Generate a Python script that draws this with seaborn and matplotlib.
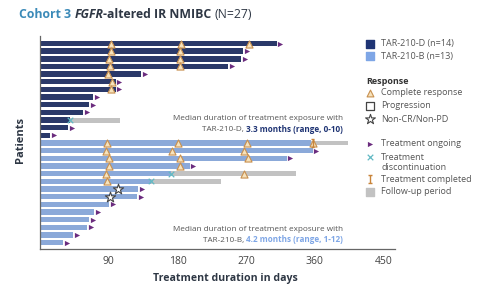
import numpy as np
import pandas as pd
import matplotlib
matplotlib.use("Agg")
import matplotlib.pyplot as plt
from matplotlib.path import Path
import seaborn as sns

# ---- data (days) ----
d_end = [310, 266, 263, 246, 132, 99, 99, 70, 64, 56, 39, 37, 13]
b_end = [355, 357, 323, 196, 172, 146, 128, 127, 91, 71, 64, 62, 43, 30]

# complete response time points per patient (row order top to bottom)
d_cr = [[93, 185, 274], [93, 184], [90, 183], [92, 183], [89], [94], [93],
        [], [], [], [], [], []]
b_cr = [[88, 181, 271, 357], [86, 173, 267], [91, 184, 273], [91, 184],
        [86, 267], [88], [], [], [], [], [], [], [], []]

# non-CR/non-PD (row in B arm -> day)
b_star_rows = [6, 7]
b_star_days = [102, 92]

# follow-up period end (row -> day); the treatment ends at bar end
d_fu_rows, d_fu_end = [10], [105]
b_fu_rows, b_fu_end = [0, 4, 5], [403, 335, 237]

# treatment discontinuation rows
d_disc_rows = [10]
b_disc_rows = [4, 5]
# treatment completed rows
b_comp_rows = [0]

arms = ["TAR-210-D"] * len(d_end) + ["TAR-210-B"] * len(b_end)
ends = d_end + b_end
patients = [f"P{i+1}" for i in range(len(ends))]

df = pd.DataFrame({"patient": patients, "days": ends, "arm": arms})

# colours
navy = "#1f3474"
light = "#7ea6e6"
grey_fu = "#c2c2c2"
purple = "#6b2c7e"
teal = "#62b9c4"
cr_face = "#f6e2bc"
cr_edge = "#c8904f"
text_grey = "#555555"

sns.set_style("white")
plt.rcParams["font.family"] = ["Open Sans", "DejaVu Sans"]

fig = plt.figure(figsize=(5.0, 2.93), dpi=100)
W, H = 500, 293
ax_left, ax_right, ax_top, ax_bot = 40, 395, 36, 249
ax = fig.add_axes([ax_left / W, 1 - ax_bot / H, (ax_right - ax_left) / W, (ax_bot - ax_top) / H])

sns.barplot(data=df, x="days", y="patient", hue="arm", order=patients,
            palette={"TAR-210-D": navy, "TAR-210-B": light}, dodge=False,
            width=0.7, linewidth=0, legend=False, ax=ax, orient="h")

nd = len(d_end)

# follow-up bars
fu_rows = d_fu_rows + [r + nd for r in b_fu_rows]
fu_start = [d_end[r] for r in d_fu_rows] + [b_end[r] for r in b_fu_rows]
fu_stop = d_fu_end + b_fu_end
ax.barh(fu_rows, np.array(fu_stop) - np.array(fu_start), left=fu_start,
        height=0.62, color=grey_fu, linewidth=0, zorder=1)

# complete response markers
cr_x, cr_y = [], []
for i, pts in enumerate(d_cr + b_cr):
    for p in pts:
        cr_x.append(p)
        cr_y.append(i)
ax.scatter(cr_x, cr_y, marker="^", s=26, facecolor=cr_face, edgecolor=cr_edge,
           linewidth=0.8, zorder=4)

# stars
ax.scatter(b_star_days, [r + nd for r in b_star_rows], marker="*", s=60,
           facecolor="white", edgecolor="#444444", linewidth=0.8, zorder=4)

# discontinuation
disc_rows = d_disc_rows + [r + nd for r in b_disc_rows]
disc_x = [d_end[r] for r in d_disc_rows] + [b_end[r] for r in b_disc_rows]
ax.scatter(disc_x, disc_rows, marker="x", s=16, color=teal, linewidth=0.9, zorder=4)

# treatment completed (I-beam)
ibeam = Path([(-0.5, 1), (0.5, 1), (0, 1), (0, -1), (-0.5, -1), (0.5, -1)],
             [Path.MOVETO, Path.LINETO, Path.MOVETO, Path.LINETO, Path.MOVETO, Path.LINETO])
comp_x = [b_end[r] + 2 for r in b_comp_rows]
ax.scatter(comp_x, [r + nd for r in b_comp_rows], marker=ibeam, s=30,
           facecolor="none", edgecolor="#c8843a", linewidth=1.0, zorder=5)

# ongoing arrows
skip = set(disc_rows) | set(r + nd for r in b_comp_rows)
on_rows = [i for i in range(len(ends)) if i not in skip]
ax.scatter([ends[i] + 5 for i in on_rows], on_rows, marker=">", s=14,
           color=purple, linewidth=0, zorder=4)

ax.set_xlim(0, 465)
ax.set_ylim(len(ends) - 1 + 0.82, -0.98)
ax.set_xticks([90, 180, 270, 360, 450])
ax.set_yticks([])
ax.set_xlabel("")
ax.set_ylabel("")
ax.tick_params(axis="x", direction="in", length=3, color="#888888",
               labelsize=7.5, labelcolor="#444444", pad=5)
sns.despine(ax=ax)
for s in ["left", "bottom"]:
    ax.spines[s].set_color("#666666")
    ax.spines[s].set_linewidth(0.9)

# ---- overlay in pixel coordinates for text and legend ----
ov = fig.add_axes([0, 0, 1, 1])
ov.set_xlim(0, W)
ov.set_ylim(H, 0)
ov.axis("off")
ov.patch.set_alpha(0)


def run_text(x, y, parts, ha="left"):
    # draw pieces of differently styled text on one baseline
    renderer = fig.canvas.get_renderer()
    objs, widths = [], []
    for txt, kw in parts:
        t = ov.text(0, y, txt, va="baseline", **kw)
        widths.append(t.get_window_extent(renderer).width)
        objs.append(t)
    start = x if ha == "left" else x - sum(widths)
    for t, w in zip(objs, widths):
        t.set_x(start)
        start += w


# title
tfs = 8.8
dark = "#2e3744"
run_text(19, 18, [("Cohort 3 ", dict(color="#3b8ab8", fontsize=tfs, fontweight="bold")),
                  ("FGFR", dict(color=dark, fontsize=tfs, fontweight="bold", fontstyle="italic")),
                  ("-altered IR NMIBC ", dict(color=dark, fontsize=tfs, fontweight="bold")),
                  ("(N=27)", dict(color=dark, fontsize=tfs))])

ov.text(21, 140, "Patients", rotation=90, fontsize=8, fontweight="bold",
        color=dark, ha="center", va="center")
ov.text(225, 278, "Treatment duration in days", fontsize=7.6, fontweight="bold",
        color=dark, ha="center", va="center")

# median annotations
mfs = 5.9
ov.text(343, 120, "Median duration of treatment exposure with", fontsize=mfs,
        color=text_grey, ha="right", va="baseline")
run_text(343, 131.5, [("TAR-210-D, ", dict(fontsize=mfs, color=text_grey)),
                      ("3.3 months (range, 0-10)", dict(fontsize=mfs, fontweight="bold", color=navy))],
         ha="right")
ov.text(343, 231, "Median duration of treatment exposure with", fontsize=mfs,
        color=text_grey, ha="right", va="baseline")
run_text(343, 242, [("TAR-210-B, ", dict(fontsize=mfs, color=text_grey)),
                    ("4.2 months (range, 1-12)", dict(fontsize=mfs, fontweight="bold", color=light))],
         ha="right")

# legend
lx, tx, lfs = 370, 381, 6.5
ov.scatter([lx], [43.5], marker="s", s=30, color=navy)
ov.text(tx, 43.5, "TAR-210-D (n=14)", fontsize=lfs, color=text_grey, va="center")
ov.scatter([lx], [56], marker="s", s=30, color=light)
ov.text(tx, 56, "TAR-210-B (n=13)", fontsize=lfs, color=text_grey, va="center")
ov.text(366, 81, "Response", fontsize=lfs, fontweight="bold", color="#333333", va="center")
ov.scatter([lx], [92.5], marker="^", s=24, facecolor=cr_face, edgecolor=cr_edge, linewidth=0.8)
ov.text(tx, 92.5, "Complete response", fontsize=lfs, color=text_grey, va="center")
ov.scatter([lx], [106], marker="s", s=26, facecolor="white", edgecolor="#444444", linewidth=0.9)
ov.text(tx, 106, "Progression", fontsize=lfs, color=text_grey, va="center")
ov.scatter([lx], [119], marker="*", s=55, facecolor="white", edgecolor="#444444", linewidth=0.8)
ov.text(tx, 119, "Non-CR/Non-PD", fontsize=lfs, color=text_grey, va="center")
ov.scatter([lx], [144], marker=">", s=14, color=purple, linewidth=0)
ov.text(tx, 144, "Treatment ongoing", fontsize=lfs, color=text_grey, va="center")
ov.scatter([lx], [157], marker="x", s=16, color=teal, linewidth=0.9)
ov.text(tx, 157, "Treatment", fontsize=lfs, color=text_grey, va="center")
ov.text(tx, 168, "discontinuation", fontsize=lfs, color=text_grey, va="center")
ov.scatter([lx], [179], marker=ibeam, s=30, facecolor="none", edgecolor="#c8843a", linewidth=1.0)
ov.text(tx, 179, "Treatment completed", fontsize=lfs, color=text_grey, va="center")
ov.scatter([lx], [192], marker="s", s=26, color=grey_fu)
ov.text(tx, 192, "Follow-up period", fontsize=lfs, color=text_grey, va="center")

fig.savefig("out.png", dpi=100)
